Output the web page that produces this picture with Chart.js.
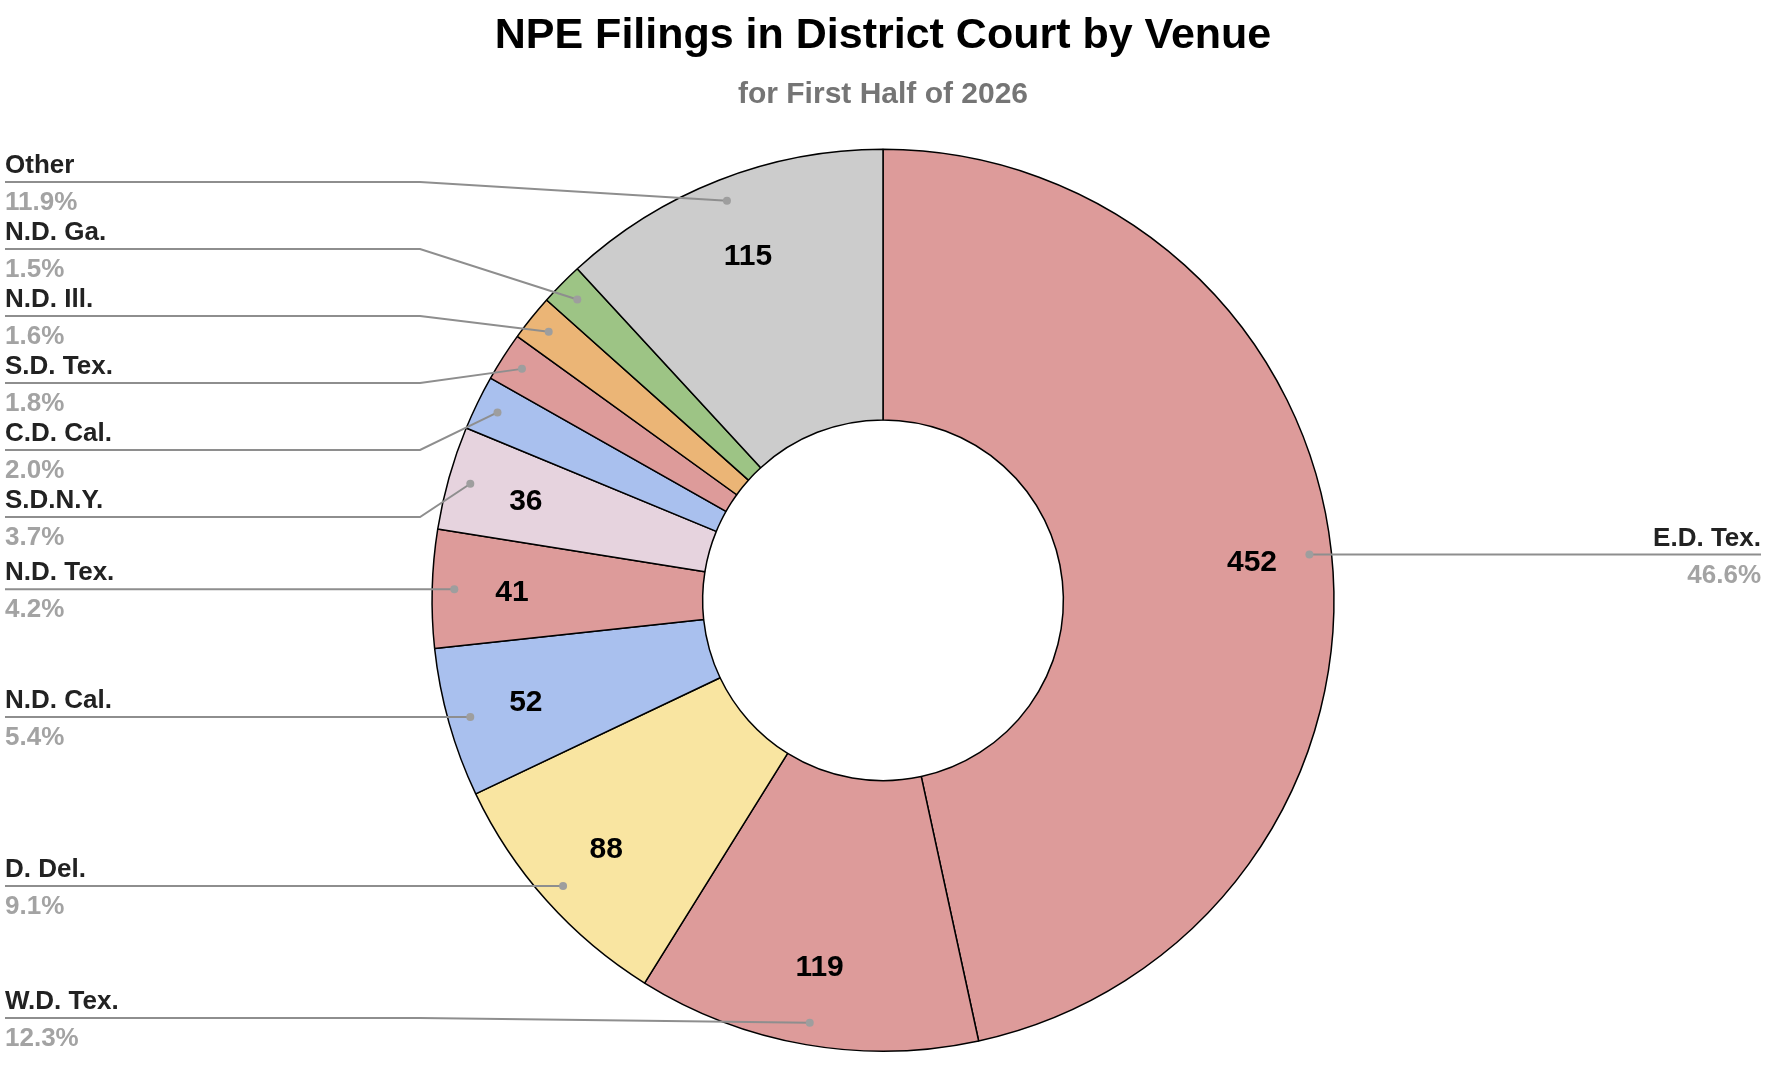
<!DOCTYPE html>
<html>
<head>
<meta charset="utf-8">
<title>NPE Filings in District Court by Venue</title>
<script src="https://cdn.jsdelivr.net/npm/chart.js"></script>
<style>
    html, body { margin: 0; padding: 0; background: #fff; }
    #wrap { width: 1788px; height: 1078px; }
</style>
</head>
<body>
<div id="wrap"><canvas id="venueChart" width="1788" height="1078"></canvas></div>
<script>
// Chart data
const TITLE = 'NPE Filings in District Court by Venue';
const SUBTITLE = 'for First Half of 2026';

const venues = ['E.D. Tex.', 'W.D. Tex.', 'D. Del.', 'N.D. Cal.', 'N.D. Tex.', 'S.D.N.Y.',
    'C.D. Cal.', 'S.D. Tex.', 'N.D. Ill.', 'N.D. Ga.', 'Other'];
const filings = [452, 119, 88, 52, 41, 36, 19, 17, 16, 15, 115];
const sliceColors = ['#dd9b9a', '#dd9b9a', '#f9e5a1', '#a9c0ee', '#dd9b9a', '#e6d3de',
    '#a9c0ee', '#dd9b9a', '#ebb576', '#9dc485', '#cccccc'];

const FONT = '"Liberation Sans", Arial, Helvetica, sans-serif';
const VALUE_MIN_SHARE = 0.03;   // slices smaller than this get no value label

/**
 * Spread callout rows so they don't overlap: overlapping rows are merged
 * into groups centred on the mean of their wanted positions.
 */
function spreadRows(items, gap, minY, maxY) {
    items.sort((a, b) => a.want - b.want);
    let groups = items.map(it => ({ items: [it], sum: it.want }));

    const place = g => {
        const n = g.items.length;
        let top = g.sum / n - (n - 1) * gap / 2;
        top = Math.max(minY, Math.min(top, maxY - (n - 1) * gap));
        g.top = top;
    };

    let merged = true;
    while (merged) {
        merged = false;
        groups.forEach(place);
        for (let k = 0; k < groups.length - 1; k++) {
            const a = groups[k], b = groups[k + 1];
            if (a.top + a.items.length * gap > b.top) {
                groups.splice(k, 2, { items: a.items.concat(b.items), sum: a.sum + b.sum });
                merged = true;
                break;
            }
        }
    }
    groups.forEach(g => g.items.forEach((it, j) => { it.y = g.top + j * gap; }));
}

const calloutPlugin = {
    id: 'callouts',
    afterDatasetsDraw(chart) {
        const ctx = chart.ctx;
        const meta = chart.getDatasetMeta(0);
        const data = chart.data.datasets[0].data;
        const labels = chart.data.labels;
        const total = data.reduce((a, b) => a + b, 0);

        ctx.save();

        // values inside the ring
        ctx.font = 'bold 30px ' + FONT;
        ctx.fillStyle = '#000';
        ctx.textAlign = 'center';
        ctx.textBaseline = 'middle';
        meta.data.forEach((arc, i) => {
            if (data[i] / total < VALUE_MIN_SHARE) return;
            const mid = (arc.startAngle + arc.endAngle) / 2;
            const r = arc.outerRadius * 0.823;
            ctx.fillText(String(data[i]), arc.x + Math.cos(mid) * r, arc.y + Math.sin(mid) * r + 2);
        });

        // callout rows
        const left = [], right = [];
        meta.data.forEach((arc, i) => {
            const mid = (arc.startAngle + arc.endAngle) / 2;
            const r = arc.outerRadius * 0.951;
            const px = arc.x + Math.cos(mid) * r;
            const py = arc.y + Math.sin(mid) * r;
            const item = {
                name: labels[i],
                pct: (data[i] / total * 100).toFixed(1) + '%',
                px, py, want: py, cx: arc.x, outer: arc.outerRadius
            };
            (px < arc.x ? left : right).push(item);
        });

        const gap = 67;
        spreadRows(left, gap, 30, chart.height - 60);
        spreadRows(right, gap, 30, chart.height - 60);

        const edgeL = 5, edgeR = chart.width - 27;

        const drawRow = (it, side) => {
            const elbow = it.cx + side * (it.outer + 12);
            const edge = side < 0 ? edgeL : edgeR;

            ctx.strokeStyle = '#8e8e8e';
            ctx.lineWidth = 2;
            ctx.beginPath();
            ctx.moveTo(edge, it.y);
            ctx.lineTo(elbow, it.y);
            ctx.lineTo(it.px, it.py);
            ctx.stroke();

            ctx.fillStyle = '#9e9e9e';
            ctx.beginPath();
            ctx.arc(it.px, it.py, 4, 0, Math.PI * 2);
            ctx.fill();

            ctx.textAlign = side < 0 ? 'left' : 'right';
            ctx.textBaseline = 'alphabetic';
            ctx.font = 'bold 26px ' + FONT;
            ctx.fillStyle = '#222';
            ctx.fillText(it.name, edge, it.y - 9);
            ctx.fillStyle = '#a3a3a3';
            ctx.fillText(it.pct, edge, it.y + 28);
        };

        left.forEach(it => drawRow(it, -1));
        right.forEach(it => drawRow(it, 1));

        ctx.restore();
    }
};

const chart = new Chart(document.getElementById('venueChart'), {
    type: 'doughnut',
    data: {
        labels: venues,
        datasets: [{
            data: filings,
            backgroundColor: sliceColors,
            borderColor: '#000',
            borderWidth: 1.5
        }]
    },
    options: {
        responsive: false,
        animation: false,
        cutout: '40%',
        layout: { padding: { top: 0, bottom: 26, left: 0, right: 22 } },
        plugins: {
            legend: { display: false },
            tooltip: { enabled: false },
            title: {
                display: true,
                text: TITLE,
                color: '#000',
                font: { family: FONT, size: 43, weight: 'bold' },
                padding: { top: 10, bottom: 0 }
            },
            subtitle: {
                display: true,
                text: SUBTITLE,
                color: '#757575',
                font: { family: FONT, size: 30, weight: 'bold' },
                padding: { top: 15, bottom: 36 }
            }
        }
    },
    plugins: [calloutPlugin]
});
</script>
</body>
</html>
